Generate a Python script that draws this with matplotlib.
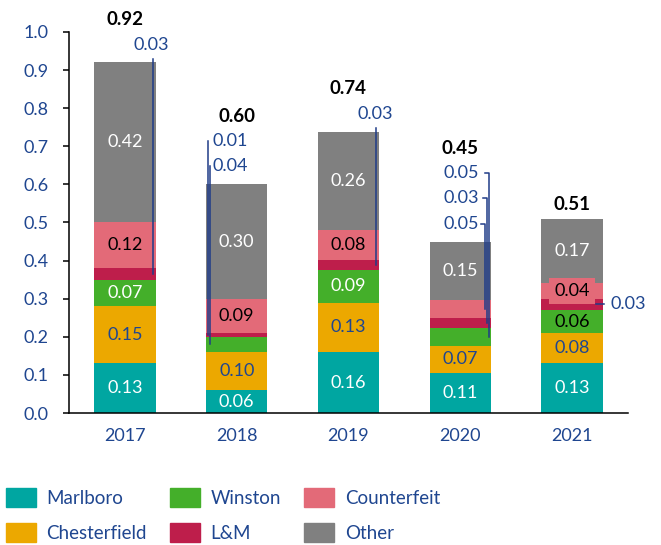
import numpy as np
import matplotlib.pyplot as plt
from matplotlib.patches import Patch

plt.rcParams['font.family'] = ['Lato', 'DejaVu Sans']

# values (share of the market, stacked)
years = ['2017', '2018', '2019', '2020', '2021']
marlboro = [0.13, 0.06, 0.159, 0.106, 0.13]
chesterfield = [0.15, 0.10, 0.131, 0.071, 0.08]
winston = [0.07, 0.04, 0.086, 0.046, 0.06]
lm = [0.03, 0.01, 0.026, 0.026, 0.03]
counterfeit = [0.12, 0.09, 0.077, 0.047, 0.04]
other = [0.42, 0.30, 0.259, 0.154, 0.17]
totals = [0.92, 0.60, 0.74, 0.45, 0.51]

BLUE = '#1F4690'
LINE = '#1F3C88'

series = [
    ('Marlboro', marlboro, '#00A6A1', 'white'),
    ('Chesterfield', chesterfield, '#ECA800', BLUE),
    ('Winston', winston, '#44AF2A', 'white'),
    ('L&M', lm, '#BE1E4B', BLUE),
    ('Counterfeit', counterfeit, '#E36A78', 'black'),
    ('Other', other, '#808080', 'white'),
]

# labels that sit outside the bars (bottom to top) and how they are drawn
outside = {0: ['L&M'], 1: ['Winston', 'L&M'], 2: ['L&M'],
           3: ['Counterfeit', 'L&M', 'Winston'], 4: []}
outside_style = {0: 'above', 1: 'left', 2: 'above', 3: 'right', 4: None}

fig = plt.figure(figsize=(6.61, 5.45), dpi=100)
ax = fig.add_axes([0.1044, 0.2422, 0.8456, 0.6991])

x = np.arange(len(years))
w = 0.55
px = 1 / 112.0   # one pixel in x data units
py = 1 / 381.0   # one pixel in y data units

bottom = np.zeros(len(years))
seg_mid = {}
for name, vals, color, tcol in series:
    vals = np.array(vals)
    ax.bar(x, vals, width=w, bottom=bottom, color=color, edgecolor='none', zorder=2)
    mids = bottom + vals / 2
    seg_mid[name] = mids
    for i in range(len(years)):
        if name in outside[i]:
            continue
        c = tcol
        box = None
        if name == 'Winston' and i == 4:
            c = 'black'
        if name == 'Counterfeit' and i == 4:
            box = dict(boxstyle='square,pad=0.3', fc=color, ec='none')
        if name == 'L&M' and i == 4:
            # small label to the right with a short leader
            y = mids[i]
            ax.plot([i + w / 2 - 7 * px, i + w / 2 + 1 * px], [y, y], color=LINE, lw=1.1, zorder=4)
            ax.text(i + w / 2 + 8 * px, y, f'{vals[i]:.2f}', ha='left', va='center',
                    color=BLUE, fontsize=13, zorder=5)
            continue
        ax.text(i, mids[i], f'{vals[i]:.2f}', ha='center', va='center',
                color=c, fontsize=13, bbox=box, zorder=5)
    bottom = bottom + vals

# outside labels with leader lines, then the totals above them
for i in range(len(years)):
    top = bottom[i]
    names = outside[i]
    style = outside_style[i]
    vals_by_name = {s[0]: s[1][i] for s in series}
    for k, name in enumerate(names):
        ylab = top + 0.047 + 0.066 * k
        target = seg_mid[name][i]
        txt = f'{vals_by_name[name]:.2f}'
        if style == 'above':
            lx = i + w / 2 - 3 * px
            ax.text(lx - 1 * px, ylab, txt, ha='center', va='center', color=BLUE, fontsize=13)
            ax.plot([lx, lx], [ylab - 14 * py, target], color=LINE, lw=1.1, zorder=4)
        elif style == 'left':
            lx = i - w / 2 + (4 - 2 * k) * px
            ax.text(i - w / 2 + 7 * px, ylab, txt, ha='left', va='center', color=BLUE, fontsize=13)
            ax.plot([lx, lx], [ylab, target], color=LINE, lw=1.1, zorder=4)
        elif style == 'right':
            lx = i + w / 2 - (2 + 2 * (len(names) - 1 - k)) * px
            ax.text(i + w / 2 - 12 * px, ylab, txt, ha='right', va='center', color=BLUE, fontsize=13)
            ax.plot([lx - 4 * px, lx, lx], [ylab, ylab, target], color=LINE, lw=1.1, zorder=4)
    if names:
        ytot = top + 0.047 + 0.066 * len(names)
    else:
        ytot = top + 0.036
    ax.text(i, ytot, f'{totals[i]:.2f}', ha='center', va='center', color='black',
            fontsize=13.5, fontweight='bold')

ax.set_xlim(-0.5, len(years) - 0.5)
ax.set_ylim(0, 1.0)
ax.set_yticks(np.arange(0, 1.01, 0.1))
ax.set_yticklabels([f'{v:.1f}' for v in np.arange(0, 1.01, 0.1)])
ax.set_xticks(x)
ax.set_xticklabels(years)
ax.tick_params(axis='y', colors='black', labelcolor=BLUE, labelsize=13, length=4.5, width=1.1, pad=10)
ax.tick_params(axis='x', length=0, labelcolor=BLUE, labelsize=13, pad=11)
for s in ['top', 'right']:
    ax.spines[s].set_visible(False)
for s in ['left', 'bottom']:
    ax.spines[s].set_linewidth(1.1)
    ax.spines[s].set_color('black')

handles = [Patch(color=s[2], label=s[0]) for s in series]
fig.legend(handles=handles, loc='upper left', bbox_to_anchor=(0.009, 0.105), ncol=3,
           frameon=False, fontsize=13.5, labelcolor=BLUE, borderpad=0, borderaxespad=0,
           handlelength=1.6, handleheight=1.2, handletextpad=0.55, columnspacing=1.25,
           labelspacing=0.85)

fig.savefig('out.png', dpi=100)
